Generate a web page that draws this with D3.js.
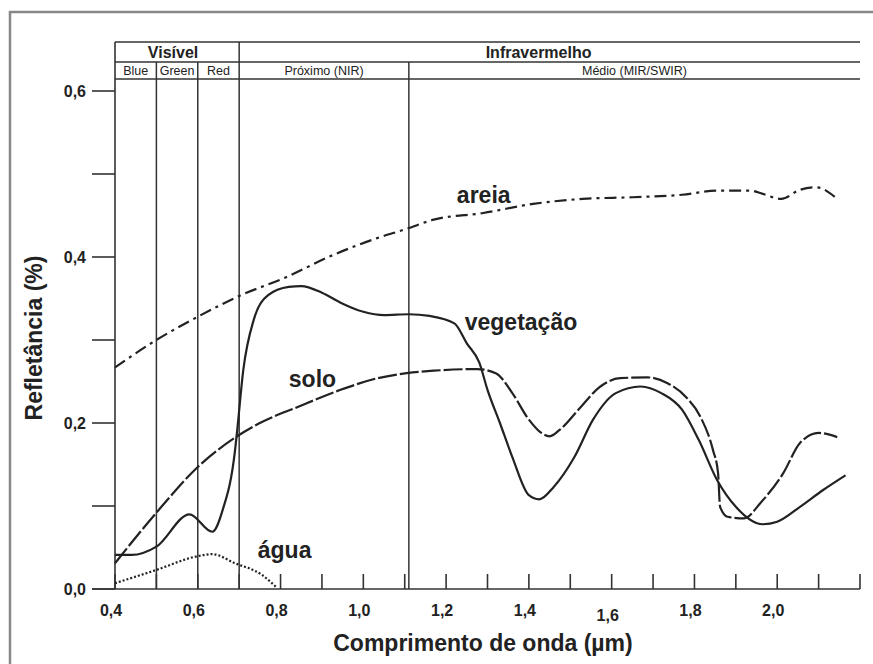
<!DOCTYPE html>
<html>
<head>
<meta charset="utf-8">
<title>Reflectância espectral - D3.js</title>
<script src="https://d3js.org/d3.v7.min.js"></script>
<style>
body {
margin: 0;
background: #fff;
}

text {
font-family: "Liberation Sans", Arial, sans-serif;
fill: #222;
}

.curve {
fill: none;
stroke: #222;
stroke-width: 2.2px;
}

.grid {
stroke: #333;
stroke-width: 1.5px;
}

.axis-line {
stroke: #333;
stroke-width: 1.6px;
}
</style>
</head>
<body>
<svg width="873" height="664"></svg>

<script>
// wavelength (um), reflectance
const vegetacao = [
[0.40, 0.041], [0.44, 0.041], [0.50, 0.051], [0.58, 0.090], [0.635, 0.069],
[0.66, 0.095], [0.69, 0.167], [0.695, 0.19], [0.71, 0.264], [0.735, 0.324],
[0.77, 0.354], [0.82, 0.364], [0.85, 0.365], [0.90, 0.357], [0.945, 0.345],
[1.00, 0.334], [1.05, 0.330], [1.11, 0.331], [1.16, 0.329], [1.22, 0.320],
[1.25, 0.296], [1.28, 0.273], [1.30, 0.240], [1.33, 0.200], [1.36, 0.159],
[1.40, 0.113], [1.425, 0.108], [1.46, 0.123], [1.51, 0.159], [1.555, 0.204],
[1.61, 0.236], [1.67, 0.244], [1.72, 0.236], [1.77, 0.216], [1.81, 0.180],
[1.855, 0.131], [1.90, 0.099], [1.965, 0.078], [2.00, 0.081], [2.055, 0.099],
[2.11, 0.119], [2.165, 0.137]
];

const solo = [
[0.40, 0.031], [0.50, 0.092], [0.60, 0.147], [0.695, 0.184], [0.75, 0.200],
[0.84, 0.219], [0.945, 0.240], [1.035, 0.254], [1.105, 0.260], [1.17, 0.263],
[1.275, 0.265], [1.32, 0.260], [1.36, 0.236], [1.40, 0.204], [1.43, 0.188],
[1.45, 0.184], [1.475, 0.192], [1.525, 0.219], [1.57, 0.243], [1.62, 0.254],
[1.685, 0.255], [1.735, 0.248], [1.78, 0.231], [1.815, 0.207], [1.845, 0.167],
[1.857, 0.140], [1.862, 0.099], [1.88, 0.087], [1.92, 0.085], [1.96, 0.104],
[2.015, 0.140], [2.055, 0.176], [2.10, 0.188], [2.145, 0.183]
];

const areia = [
[0.40, 0.267], [0.50, 0.300], [0.60, 0.328], [0.70, 0.353], [0.815, 0.376],
[0.925, 0.402], [1.035, 0.423], [1.105, 0.434], [1.17, 0.445], [1.29, 0.453],
[1.41, 0.464], [1.53, 0.470], [1.65, 0.472], [1.77, 0.475], [1.855, 0.480],
[1.935, 0.480], [1.965, 0.476], [2.01, 0.470], [2.055, 0.481], [2.095, 0.484],
[2.14, 0.472]
];

const agua = [
[0.40, 0.007], [0.50, 0.023], [0.595, 0.039], [0.635, 0.042], [0.69, 0.031],
[0.755, 0.017], [0.79, 0.002]
];

const curveLabels = [
{ text: "areia", x: 1.226, y: 0.465 },
{ text: "vegetação", x: 1.245, y: 0.312 },
{ text: "solo", x: 0.82, y: 0.243 },
{ text: "água", x: 0.745, y: 0.037 }
];

const regions = [
{ name: "Visível", from: 0.4, to: 0.7 },
{ name: "Infravermelho", from: 0.7, to: 2.2 }
];

const bands = [
{ name: "Blue", from: 0.4, to: 0.5 },
{ name: "Green", from: 0.5, to: 0.6 },
{ name: "Red", from: 0.6, to: 0.7 },
{ name: "Próximo (NIR)", from: 0.7, to: 1.11 },
{ name: "Médio (MIR/SWIR)", from: 1.11, to: 2.2 }
];

const xTicks = d3.range(4, 23).map((d) => d / 10);
const xTickLabels = [0.4, 0.6, 0.8, 1.0, 1.2, 1.4, 1.6, 1.8, 2.0];
const yTicks = [0, 0.1, 0.2, 0.3, 0.4, 0.5, 0.6];
const yTickLabels = [0, 0.2, 0.4, 0.6];

const svg = d3.select("svg");
const fmt = (d) => d.toFixed(1).replace(".", ",");

const x = d3.scaleLinear().domain([0.4, 2.2]).range([115, 860]);
const y = d3.scaleLinear().domain([0, 0.6]).range([589, 91]);

const headTop = 42;
const headMid = 62;
const headBot = 79;

// outer frame of the scanned figure
svg.append("rect")
.attr("x", 10)
.attr("y", 12)
.attr("width", 900)
.attr("height", 700)
.attr("fill", "none")
.attr("stroke", "#888")
.attr("stroke-width", 2.5);

// header rows
[headTop, headMid, headBot].forEach((h) => {
svg.append("line")
.attr("class", "grid")
.attr("x1", x(0.4))
.attr("x2", x(2.2))
.attr("y1", h)
.attr("y2", h);
});

svg.selectAll(".region-label")
.data(regions)
.enter()
.append("text")
.attr("class", "region-label")
.attr("x", (d) => (x(d.from) + x(d.to)) / 2 - (d.to > 2 ? 11 : 4))
.attr("y", 58)
.attr("text-anchor", "middle")
.attr("font-size", 16)
.attr("font-weight", "bold")
.text((d) => d.name);

svg.selectAll(".band-label")
.data(bands)
.enter()
.append("text")
.attr("class", "band-label")
.attr("x", (d) => (x(d.from) + x(d.to)) / 2)
.attr("y", 75)
.attr("text-anchor", "middle")
.attr("font-size", 12.5)
.text((d) => d.name);

// vertical band boundaries
svg.selectAll(".band-line")
.data(bands.slice(1))
.enter()
.append("line")
.attr("class", "grid")
.attr("x1", (d) => x(d.from))
.attr("x2", (d) => x(d.from))
.attr("y1", (d) => (d.from === 0.7 ? headTop : headMid))
.attr("y2", y(0));

// y axis
svg.append("line")
.attr("class", "axis-line")
.attr("x1", x(0.4))
.attr("x2", x(0.4))
.attr("y1", headTop)
.attr("y2", y(0));

svg.selectAll(".y-tick")
.data(yTicks)
.enter()
.append("line")
.attr("class", "axis-line")
.attr("x1", x(0.4) - 23)
.attr("x2", x(0.4))
.attr("y1", (d) => y(d))
.attr("y2", (d) => y(d));

svg.selectAll(".y-label")
.data(yTickLabels)
.enter()
.append("text")
.attr("x", 86)
.attr("y", (d) => y(d) + 6)
.attr("text-anchor", "end")
.attr("font-size", 16)
.attr("font-weight", "bold")
.text(fmt);

// x axis
svg.append("line")
.attr("class", "axis-line")
.attr("x1", x(0.4) - 23)
.attr("x2", x(2.2))
.attr("y1", y(0))
.attr("y2", y(0));

svg.selectAll(".x-tick")
.data(xTicks)
.enter()
.append("line")
.attr("class", "axis-line")
.attr("x1", (d) => x(d))
.attr("x2", (d) => x(d))
.attr("y1", y(0))
.attr("y2", y(0) - 15);

svg.selectAll(".x-label")
.data(xTickLabels)
.enter()
.append("text")
.attr("x", (d) => x(d) - 4)
.attr("y", (d) => (d === 1.6 ? 621 : 616))
.attr("text-anchor", "middle")
.attr("font-size", 16)
.attr("font-weight", "bold")
.text(fmt);

// axis titles
svg.append("text")
.attr("x", 483)
.attr("y", 651)
.attr("text-anchor", "middle")
.attr("font-size", 23)
.attr("font-weight", "bold")
.text("Comprimento de onda (µm)");

svg.append("text")
.attr("transform", "translate(42,338) rotate(-90)")
.attr("text-anchor", "middle")
.attr("font-size", 23)
.attr("font-weight", "bold")
.text("Refletância (%)");

// curves
const line = d3
.line()
.x((d) => x(d[0]))
.y((d) => y(d[1]))
.curve(d3.curveMonotoneX);

svg.append("path")
.datum(areia)
.attr("class", "curve")
.attr("stroke-dasharray", "12,5,3,5")
.attr("d", line);

svg.append("path")
.datum(solo)
.attr("class", "curve")
.attr("stroke-dasharray", "19,3")
.attr("d", line);

svg.append("path")
.datum(vegetacao)
.attr("class", "curve")
.attr("d", line);

svg.append("path")
.datum(agua)
.attr("class", "curve")
.attr("stroke-dasharray", "2,2")
.attr("stroke-width", 2.4)
.attr("d", line);

svg.selectAll(".curve-label")
.data(curveLabels)
.enter()
.append("text")
.attr("x", (d) => x(d.x))
.attr("y", (d) => y(d.y))
.attr("font-size", 23)
.attr("font-weight", "bold")
.text((d) => d.text);
</script>
</body>
</html>
